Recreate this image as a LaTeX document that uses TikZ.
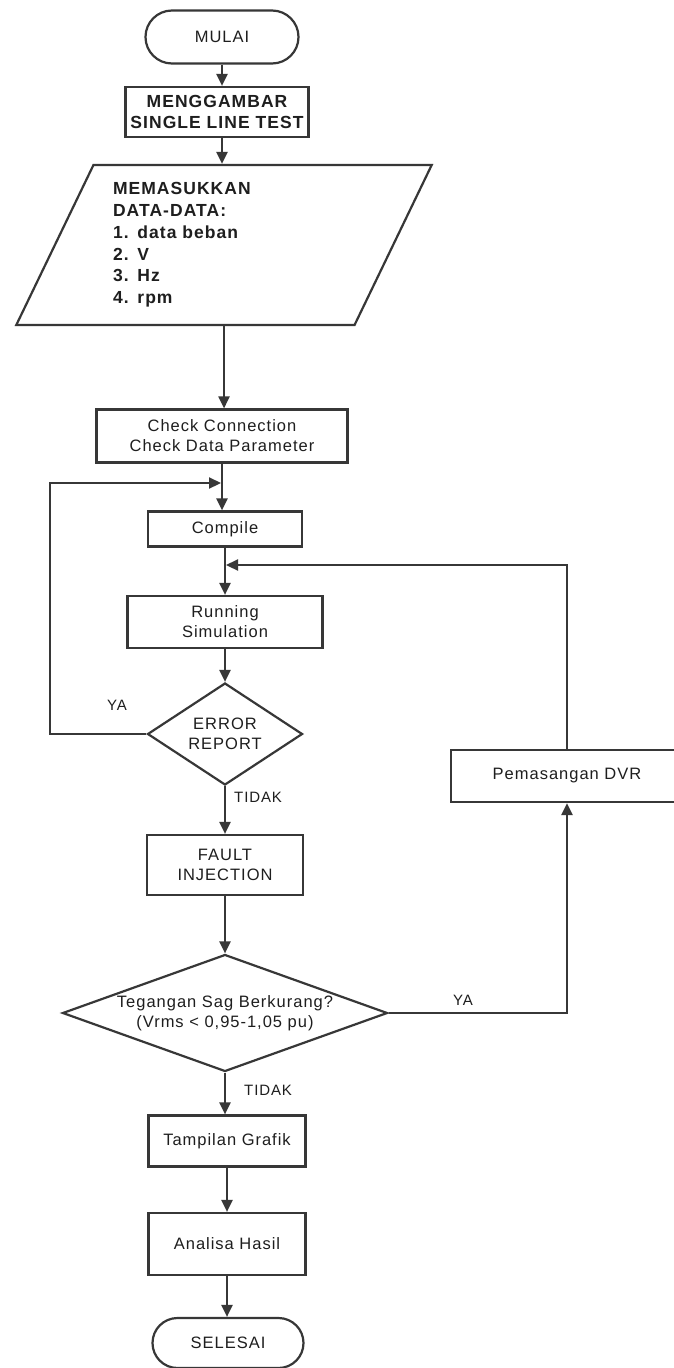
\documentclass[tikz,border=0pt]{standalone}
\usepackage{fontspec}
\setmainfont{Liberation Sans}[LetterSpace=6.0]
\usepackage{xcolor}
\usetikzlibrary{positioning, arrows.meta, shapes.geometric, shapes.misc, calc}

\definecolor{ink}{RGB}{55,55,55}
\definecolor{inktext}{RGB}{30,30,30}

\begin{document}
\begin{tikzpicture}[
    x=1pt, y=-1pt,
    flow node/.style={draw=ink, line width=2.2pt, text=inktext, align=center, inner sep=2pt,
        font=\fontsize{16.5}{20}\selectfont},
    process box/.style={flow node, rectangle},
    terminal/.style={flow node, rounded rectangle},
    decision/.style={flow node, diamond, inner sep=0pt},
    bold text/.style={font=\fontsize{17.5}{21.8}\selectfont\bfseries},
    flow arrow/.style={draw=ink, line width=2.2pt, -{Triangle[length=12pt, width=11pt]}},
    branch label/.style={text=inktext, font=\fontsize{15}{18}\selectfont, inner sep=1pt}
]

\useasboundingbox (0,0) rectangle (673,1368);
\fill[white] (0,0) rectangle (673,1368);

% --- 1. Main column ---
\node[terminal, minimum width=157pt, minimum height=53pt] (start) at (222,37) {MULAI};
\node[process box, bold text, minimum width=183pt, minimum height=50pt] (draw1) at (217,112)
    {MENGGAMBAR\\SINGLE LINE TEST};

\node[flow node, bold text, trapezium, trapezium left angle=62.6, trapezium right angle=117.4,
    trapezium stretches=true, minimum width=416pt, minimum height=160pt,
    text width=222pt, align=left] (data) at (224,245)
    {MEMASUKKAN\\DATA-DATA:\\1. data beban\\2. V\\3. Hz\\4. rpm};

\node[process box, minimum width=251pt, minimum height=53pt] (check) at (222,436)
    {Check Connection\\Check Data Parameter};
\node[process box, minimum width=154pt, minimum height=35pt] (compile) at (225,529) {Compile};
\node[process box, minimum width=195pt, minimum height=52pt] (running) at (225,622)
    {Running\\Simulation};

\node[decision, shape aspect=1.5, minimum width=155pt, minimum height=102pt] (err) at (225,734)
    {ERROR\\REPORT};
\node[process box, minimum width=156pt, minimum height=60pt] (fault) at (225,865)
    {FAULT\\INJECTION};

\node[decision, shape aspect=2.78, minimum width=325pt, minimum height=117pt] (sag) at (225,1013)
    {Tegangan Sag Berkurang?\\(Vrms < 0,95-1,05 pu)};

\node[process box, minimum width=157pt, minimum height=51pt] (grafik) at (227,1141) {Tampilan Grafik};
\node[process box, minimum width=157pt, minimum height=62pt] (hasil) at (227,1244) {Analisa Hasil};
\node[terminal, minimum width=155pt, minimum height=50pt] (stop) at (228,1343) {SELESAI};

% --- 2. Side branch ---
\node[process box, minimum width=232pt, minimum height=52pt] (dvr) at (567,776) {Pemasangan DVR};

% --- 3. Straight connectors ---
\foreach \a/\b in {start/draw1, data/check, check/compile, compile/running,
    running/err, err/fault, fault/sag, sag/grafik, grafik/hasil, hasil/stop}{
    \draw[flow arrow] (\a.south) -- (\a.south |- \b.north);
}
\draw[flow arrow] (start.south |- draw1.south) -- (start.south |- data.north);

% --- 4. Loops ---
\coordinate (loopL) at (50,483);
\coordinate (joinL) at (221,483);
\coordinate (joinR) at (226,565);

\draw[flow arrow] (err.west) -| (loopL) -- (joinL);
\draw[flow arrow] (sag.east) -| (dvr.south);
\draw[flow arrow] (dvr.north) |- (joinR);

% --- 5. Branch labels ---
\node[branch label] (yaErr) at (117,705) {YA};
\node[branch label, anchor=west] (tidakErr) at (233,797) {TIDAK};
\node[branch label] (yaSag) at (463,1000) {YA};
\node[branch label, anchor=west] (tidakSag) at (243,1090) {TIDAK};

\end{tikzpicture}
\end{document}
